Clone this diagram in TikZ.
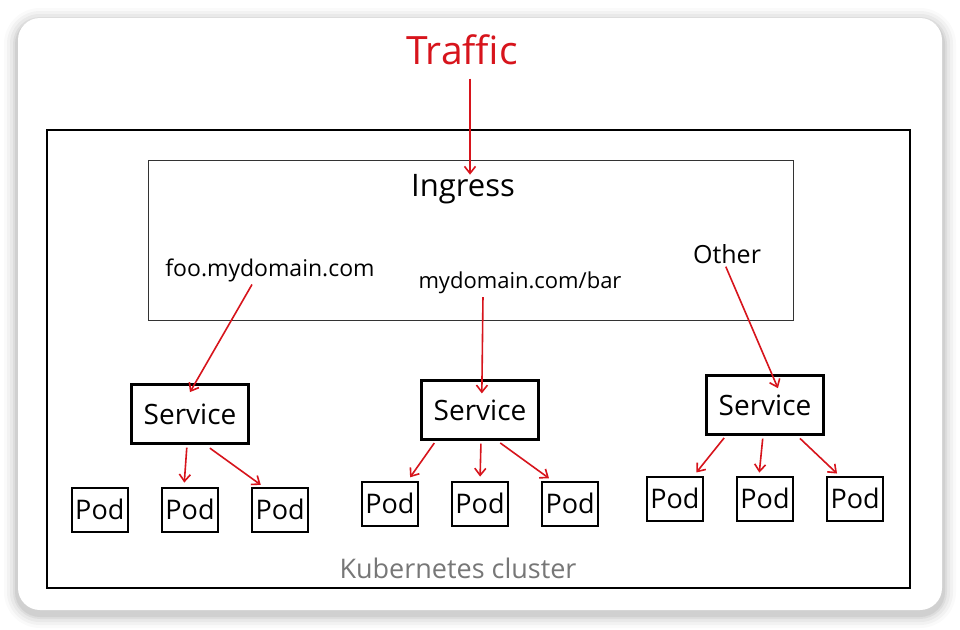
\documentclass[tikz,border=0pt]{standalone}
\usepackage{fontspec}
\setmainfont{Open Sans}
\usetikzlibrary{arrows,arrows.meta,shapes,positioning}

\definecolor{trafficred}{HTML}{D7141C}
\definecolor{labelgray}{HTML}{777777}

\begin{document}
\begin{tikzpicture}[
  x=1pt, y=-1pt,
  hand/.style={font=\fontsize{23}{26}\selectfont, inner sep=1pt},
  svc/.style={rectangle, draw=black, line width=2.2pt, minimum width=117pt, minimum height=59pt, font=\fontsize{28}{31}\selectfont},
  pod/.style={rectangle, draw=black, line width=2.2pt, minimum width=56pt, minimum height=44pt, inner sep=0pt, font=\fontsize{27}{30}\selectfont},
  arrow/.style={->, >={Straight Barb[length=7pt,width=11pt]}, draw=trafficred, line width=1.6pt}
]
\useasboundingbox (0,0) rectangle (960,629);

% Card with soft shadow
\foreach \s/\o in {14/0.02,11/0.03,8/0.04,5/0.05,3/0.06}
  \fill[black, opacity=\o, rounded corners=22+\s] (18-\s,18-\s+4) rectangle (942+\s,610+\s+4);
\fill[white, rounded corners=22] (18,18) rectangle (942,610);

% Cluster and ingress
\node[draw=black, line width=2.6pt, minimum width=863pt, minimum height=458pt, inner sep=0pt] (cluster) at (478.5,359) {};
\node[draw=black!80, line width=1pt, minimum width=645pt, minimum height=160pt, inner sep=0pt] (ingress) at (470.5,240) {};
\node[text=labelgray, font=\fontsize{27}{30}\selectfont, inner sep=1pt] (clustername) at (458,568) {Kubernetes cluster};

% Texts
\node[text=trafficred, font=\fontsize{39}{43}\selectfont] (traffic) at (462,50) {Traffic};
\node[font=\fontsize{31}{35}\selectfont] (ingresstitle) at (463,189) {Ingress};
\node[hand] (foo) at (270,270) {foo.mydomain.com};
\node[hand, font=\fontsize{22}{25}\selectfont] (bar) at (520,283) {mydomain.com/bar};
\node[hand, font=\fontsize{25}{28}\selectfont] (other) at (727,254) {Other};

% Services
\node[svc] (svcfoo) at (190,414) {Service};
\node[svc] (svcbar) at (480,410) {Service};
\node[svc] (svcother) at (765,405) {Service};

% Pods
\node[pod, below=42pt of svcfoo] (podfoob) {Pod};
\node[pod, left=32pt of podfoob] (podfooa) {Pod};
\node[pod, right=32pt of podfoob] (podfooc) {Pod};
\node[pod, below=40pt of svcbar] (podbarb) {Pod};
\node[pod, left=32pt of podbarb] (podbara) {Pod};
\node[pod, right=32pt of podbarb] (podbarc) {Pod};
\node[pod, below=40pt of svcother] (podotherb) {Pod};
\node[pod, left=32pt of podotherb] (podothera) {Pod};
\node[pod, right=32pt of podotherb] (podotherc) {Pod};

% Connect
\draw[arrow, shorten <=10pt, shorten >=-4pt] ([xshift=8pt]traffic.south) -- ([xshift=7pt]ingresstitle.north);
\draw[arrow, shorten <=2pt, shorten >=-10pt] ([xshift=-17pt]foo.south) -- ([xshift=5pt]svcfoo.north);
\draw[arrow, shorten <=2pt, shorten >=-14pt] ([xshift=-37pt]bar.south) -- ([xshift=2pt]svcbar.north);
\draw[arrow, shorten <=2pt, shorten >=-15pt] ([xshift=-2pt]other.south) -- ([xshift=7pt]svcother.north);

\draw[arrow, shorten <=3pt, shorten >=4pt] ([xshift=-3pt]svcfoo.south) -- ([xshift=-6pt]podfoob.north);
\draw[arrow, shorten <=6pt, shorten >=3pt] ([xshift=15pt]svcfoo.south) -- ([xshift=-17pt]podfooc.north);

\draw[arrow, shorten <=3pt, shorten >=4pt] ([xshift=-44pt]svcbar.south) -- ([xshift=18pt]podbara.north);
\draw[arrow, shorten <=3pt, shorten >=4pt] ([xshift=1pt]svcbar.south) -- ([xshift=0pt]podbarb.north);
\draw[arrow, shorten <=4pt, shorten >=4pt] ([xshift=17pt]svcbar.south) -- ([xshift=-18pt]podbarc.north);

\draw[arrow, shorten <=3pt, shorten >=4pt] ([xshift=-39pt]svcother.south) -- ([xshift=19pt]podothera.north);
\draw[arrow, shorten <=3pt, shorten >=3pt] ([xshift=-2pt]svcother.south) -- ([xshift=-6pt]podotherb.north);
\draw[arrow, shorten <=4pt, shorten >=3pt] ([xshift=32pt]svcother.south) -- ([xshift=-16pt]podotherc.north);

\end{tikzpicture}
\end{document}
